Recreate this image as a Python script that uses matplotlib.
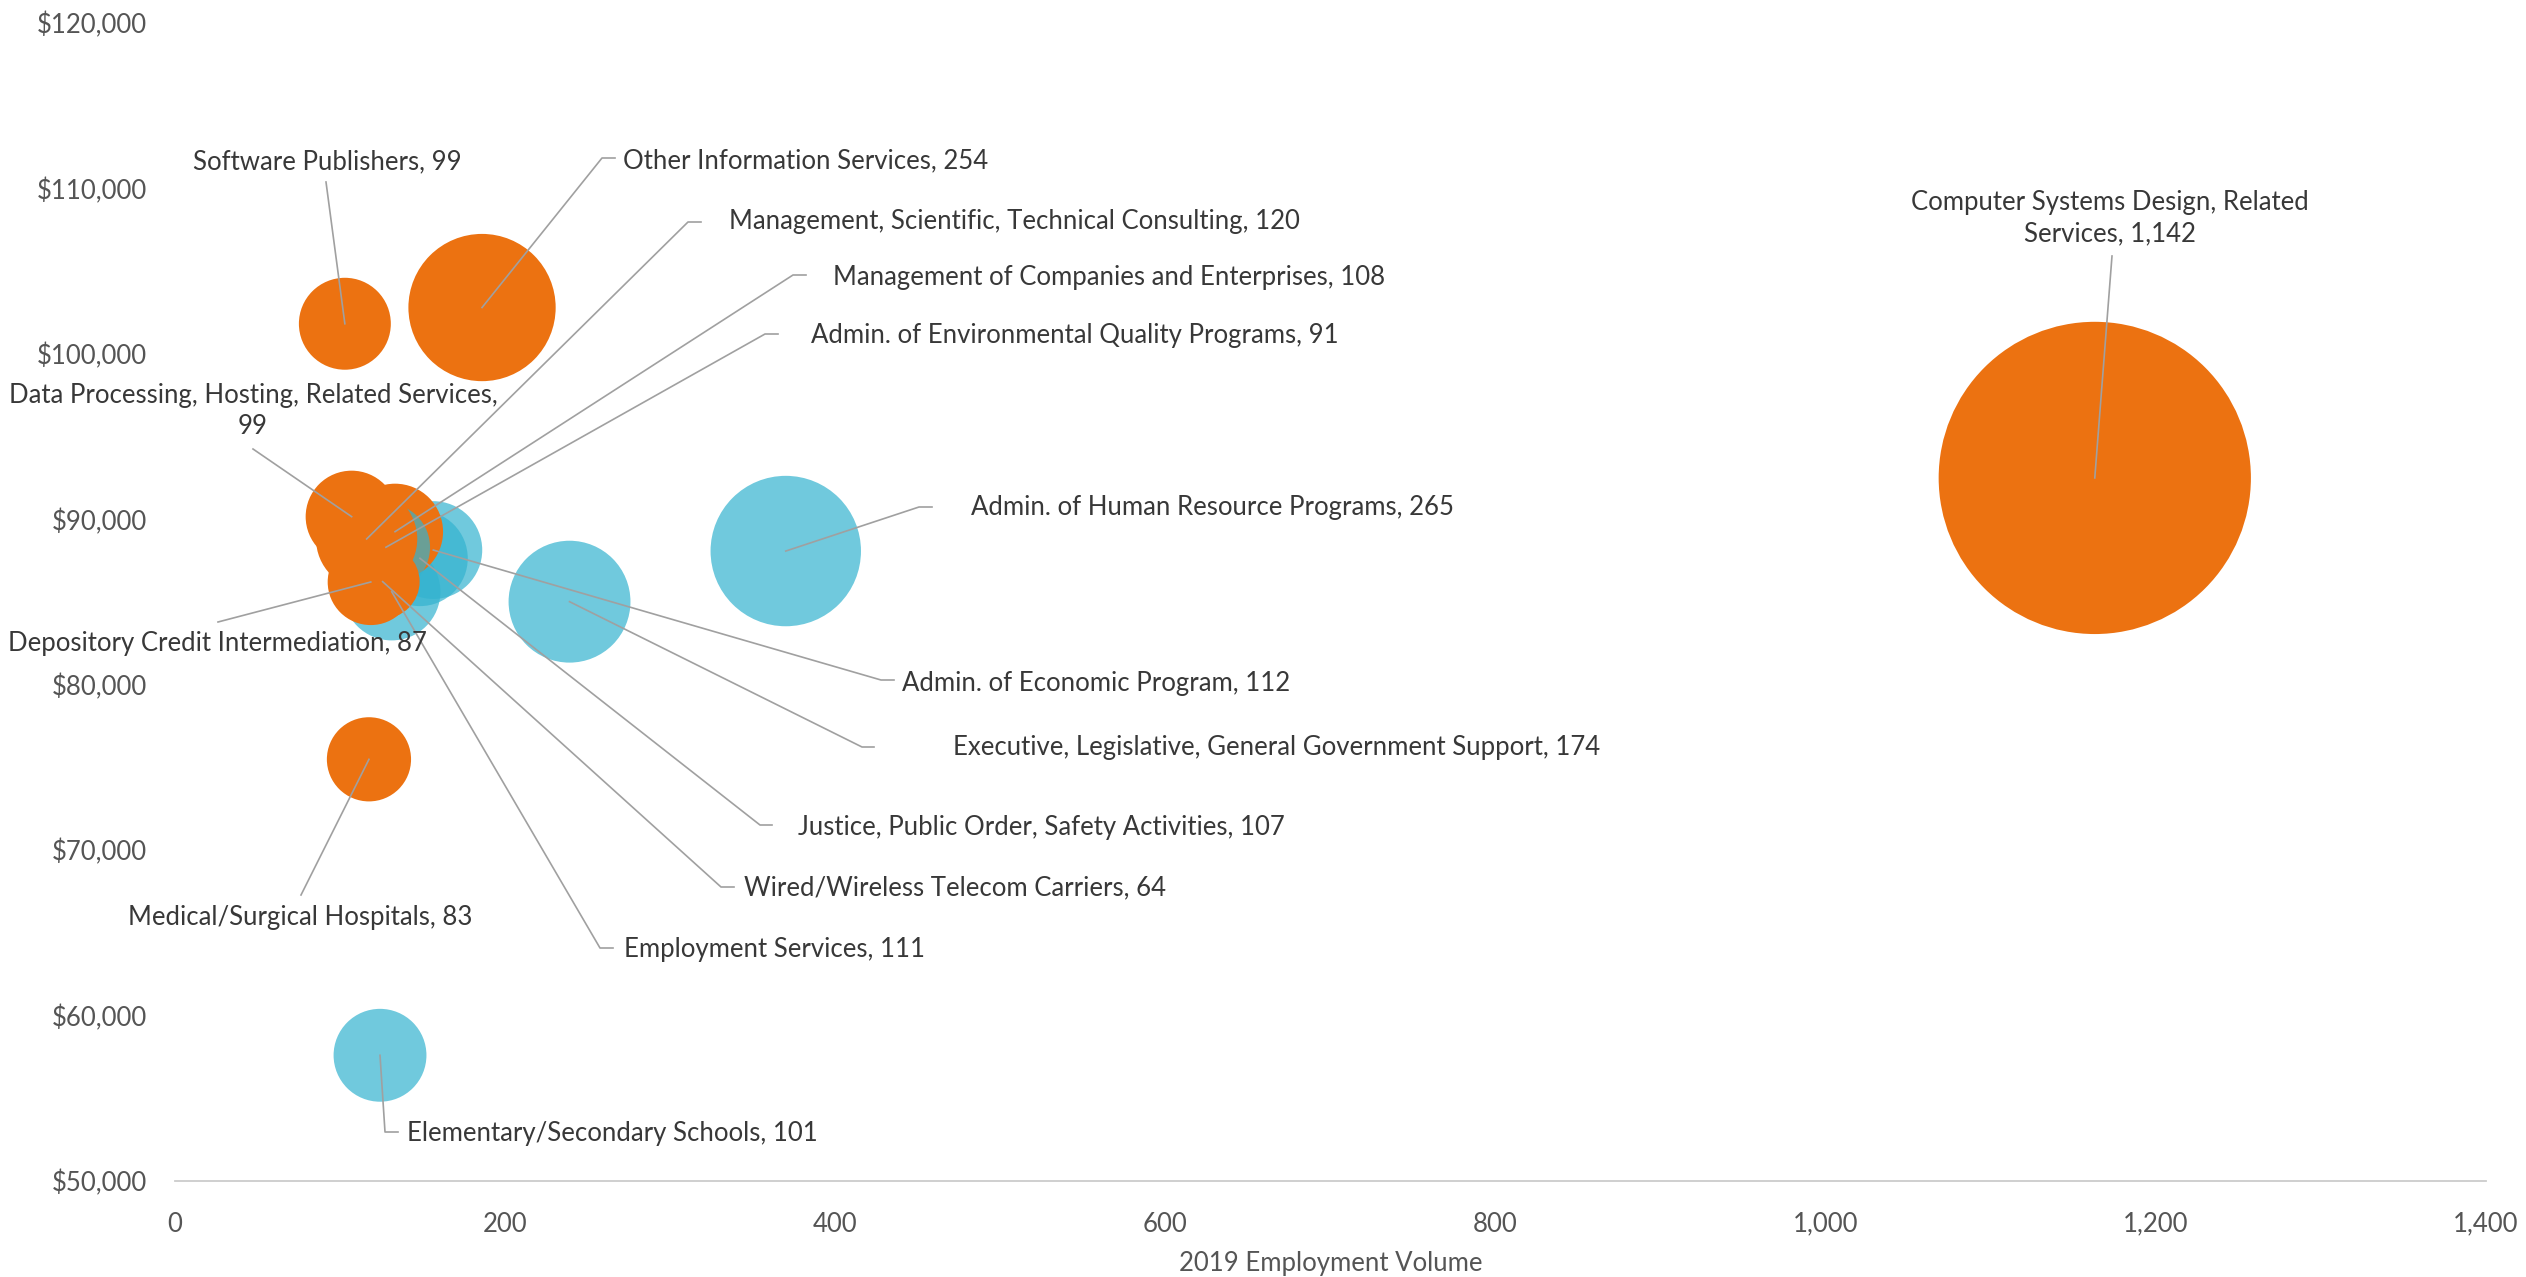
import matplotlib
matplotlib.use("Agg")
import matplotlib.pyplot as plt
from matplotlib.lines import Line2D

# ---- data -------------------------------------------------------------
industries = [
    "Computer Systems Design, Related Services",
    "Other Information Services",
    "Admin. of Human Resource Programs",
    "Executive, Legislative, General Government Support",
    "Admin. of Economic Program",
    "Justice, Public Order, Safety Activities",
    "Employment Services",
    "Management of Companies and Enterprises",
    "Admin. of Environmental Quality Programs",
    "Management, Scientific, Technical Consulting",
    "Data Processing, Hosting, Related Services",
    "Wired/Wireless Telecom Carriers",
    "Depository Credit Intermediation",
    "Software Publishers",
    "Medical/Surgical Hospitals",
    "Elementary/Secondary Schools",
]
employment_volume = [1163, 186, 370, 239, 156.5, 148.4, 131.3, 133.3,
                     127.8, 116.1, 107, 125.8, 118.6, 102.9, 117.5, 124.2]
annual_wage = [92500, 102800, 88080, 85020, 88140, 87640, 85620, 89250,
               88310, 88810, 90160, 86230, 86210, 101820, 75490, 57600]
bubble_value = [1142, 254, 265, 174, 112, 107, 111, 108,
                91, 120, 99, 64, 87, 99, 83, 101]
sector = ["private", "private", "public", "public", "public", "public",
          "public", "private", "public", "private", "private", "private",
          "private", "private", "private", "public"]

x_ticks = [0, 200, 400, 600, 800, 1000, 1200, 1400]
y_ticks = [50000, 60000, 70000, 80000, 90000, 100000, 110000, 120000]
x_title = "2019 Employment Volume"

# ---- styling ----------------------------------------------------------
W, H, DPI = 2526, 1277, 100
FONT = "Lato"
LABEL_SIZE = 18.5
TEXT_COLOR = "#383838"
TICK_COLOR = "#555555"
LEADER_COLOR = "#A0A0A0"
SECTOR_COLOR = {"private": "#EC7211", "public": (0.20, 0.70, 0.81, 0.70)}
RADIUS_PX = 4.62  # bubble radius in pixels per sqrt(unit of bubble value)

# label placement in canvas pixels (origin top-left): text anchor,
# alignment, optional line break, and the leader path toward the bubble
layout = {
    "Computer Systems Design, Related Services":
        dict(text=(2110, 218), ha="center", brk="Related ", leader=[(2112, 256)]),
    "Other Information Services":
        dict(text=(623, 161), ha="left", leader=[(615, 158), (602, 158)]),
    "Admin. of Human Resource Programs":
        dict(text=(971, 508), ha="left", leader=[(932, 507), (919, 507)]),
    "Executive, Legislative, General Government Support":
        dict(text=(953, 748), ha="left", leader=[(874, 747), (862, 747)]),
    "Admin. of Economic Program":
        dict(text=(902, 683), ha="left", leader=[(894, 680), (881, 680)]),
    "Justice, Public Order, Safety Activities":
        dict(text=(798, 827), ha="left", leader=[(772, 825), (760, 825)]),
    "Employment Services":
        dict(text=(624, 950), ha="left", leader=[(613, 948), (600, 948)]),
    "Management of Companies and Enterprises":
        dict(text=(833, 277), ha="left", leader=[(806, 275), (793, 275)]),
    "Admin. of Environmental Quality Programs":
        dict(text=(811, 336), ha="left", leader=[(778, 334), (765, 334)]),
    "Management, Scientific, Technical Consulting":
        dict(text=(729, 222), ha="left", leader=[(701, 222), (688, 222)]),
    "Data Processing, Hosting, Related Services":
        dict(text=(253, 411), ha="center", brk="Services, ", leader=[(253, 449)]),
    "Wired/Wireless Telecom Carriers":
        dict(text=(744, 888), ha="left", leader=[(734, 887), (721, 887)]),
    "Depository Credit Intermediation":
        dict(text=(8, 644), ha="left", leader=[(218, 622)]),
    "Software Publishers":
        dict(text=(193, 162), ha="left", leader=[(326, 182)]),
    "Medical/Surgical Hospitals":
        dict(text=(300, 917), ha="center", leader=[(301, 895)]),
    "Elementary/Secondary Schools":
        dict(text=(407, 1133), ha="left", leader=[(398, 1132), (385, 1132)]),
}

plt.rcParams["font.family"] = [FONT, "DejaVu Sans"]

fig = plt.figure(figsize=(W / DPI, H / DPI), dpi=DPI)
ax = fig.add_axes([175 / W, 1 - 1181 / H, (2486 - 175) / W, (1181 - 23) / H])

# bubbles: area proportional to the labelled value
pt_per_px = 72.0 / DPI
sizes = [(2 * RADIUS_PX * pt_per_px) ** 2 * v for v in bubble_value]
colors = [SECTOR_COLOR[s] for s in sector]
ax.scatter(employment_volume, annual_wage, s=sizes, c=colors,
           linewidths=0, zorder=2, clip_on=False)

ax.set_xlim(x_ticks[0], x_ticks[-1])
ax.set_ylim(y_ticks[0], y_ticks[-1])
ax.set_xticks(x_ticks)
ax.set_xticklabels([f"{t:,}" for t in x_ticks])
ax.set_yticks(y_ticks)
ax.set_yticklabels([f"${t:,}" for t in y_ticks])
ax.tick_params(axis="both", length=0, labelsize=LABEL_SIZE, labelcolor=TICK_COLOR)
ax.tick_params(axis="x", pad=22)
ax.tick_params(axis="y", pad=20)
for side in ("left", "right", "top"):
    ax.spines[side].set_visible(False)
ax.spines["bottom"].set_color("#CCCCCC")
ax.spines["bottom"].set_linewidth(1.3)
ax.set_xlabel(x_title, fontsize=LABEL_SIZE, color=TICK_COLOR, va="center")
ax.xaxis.set_label_coords(0.5, (1181 - 1263) / (1181 - 23))


def canvas_to_fig(px, py):
    return px / W, 1 - py / H


# data labels with leader lines
for name, x, y, v in zip(industries, employment_volume, annual_wage, bubble_value):
    spec = layout[name]
    label = f"{name}, {v:,}"
    if "brk" in spec:
        b = spec["brk"]
        label = label.replace(b, b.rstrip() + "\n", 1)
    tx, ty = canvas_to_fig(*spec["text"])
    fig.text(tx, ty, label, ha=spec["ha"], va="center", fontsize=LABEL_SIZE,
             color=TEXT_COLOR, linespacing=1.3, multialignment="center")
    cx, cy = ax.transData.transform((x, y))
    pts = [canvas_to_fig(*p) for p in spec["leader"]] + [(cx / W, cy / H)]
    fig.add_artist(Line2D([p[0] for p in pts], [p[1] for p in pts],
                          transform=fig.transFigure, color=LEADER_COLOR,
                          linewidth=1.2, zorder=3))

fig.savefig("out.png", dpi=DPI, facecolor="white")
